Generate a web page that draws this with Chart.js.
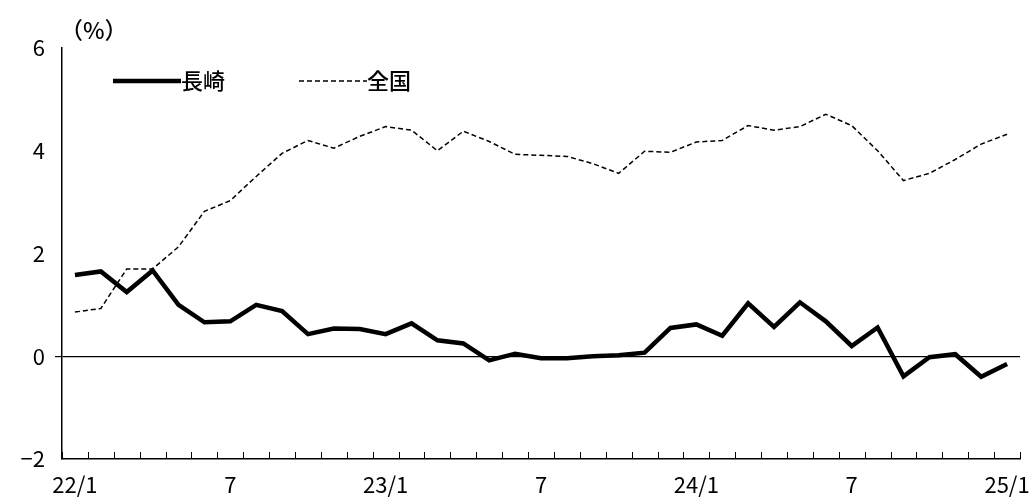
<!DOCTYPE html>
<html><head><meta charset="utf-8">
<script src="https://cdn.jsdelivr.net/npm/chart.js@4/dist/chart.umd.min.js"></script>
<style>html,body{margin:0;background:#fff}#wrap{width:1035px;height:502px}</style>
</head><body><div id="wrap"><canvas id="c"></canvas></div>
<script>
const months = ['22/1','2','3','4','5','6','7','8','9','10','11','12',
  '23/1','2','3','4','5','6','7','8','9','10','11','12',
  '24/1','2','3','4','5','6','7','8','9','10','11','12','25/1'];
const nagasaki = [1.58,1.65,1.25,1.67,1.0,0.66,0.68,1.0,0.88,0.43,0.54,0.53,
  0.43,0.64,0.31,0.25,-0.08,0.05,-0.04,-0.04,0.0,0.02,0.07,0.55,
  0.62,0.4,1.03,0.57,1.05,0.68,0.2,0.56,-0.39,-0.02,0.04,-0.4,-0.15];
const zenkoku = [0.86,0.93,1.7,1.7,2.13,2.82,3.03,3.5,3.95,4.2,4.05,4.28,
  4.47,4.4,4.0,4.38,4.18,3.93,3.91,3.89,3.75,3.56,3.99,3.97,
  4.17,4.2,4.49,4.4,4.47,4.71,4.49,4.0,3.42,3.56,3.83,4.13,4.32];
const yTicks = [-2,0,2,4,6];
const FONT = '"Noto Sans CJK JP", sans-serif';

const overlay = {
  id:'overlay',
  afterDraw(chart){
    const ctx = chart.ctx, a = chart.chartArea, xs = chart.scales.x;
    ctx.save();
    // upward month ticks on the bottom axis
    ctx.strokeStyle = '#000'; ctx.lineWidth = 1;
    for (let i = 0; i <= months.length; i++) {
      const x = Math.round(xs.getPixelForValue(i - 0.5)) + 0.5;
      ctx.beginPath(); ctx.moveTo(x, a.bottom); ctx.lineTo(x, a.bottom - 7); ctx.stroke();
    }
    ctx.fillStyle = '#000';
    ctx.font = '500 23px ' + FONT;
    ctx.textBaseline = 'middle';
    ctx.fillText('（%）', 60, 30);
    chart.data.datasets.forEach((ds,i)=>{
      const x = a.left + 51 + i*186, y = a.top + 33;
      ctx.beginPath();
      ctx.lineWidth = ds.borderWidth;
      ctx.setLineDash(ds.borderDash || []);
      ctx.moveTo(x, y); ctx.lineTo(x+68, y); ctx.stroke();
      ctx.setLineDash([]);
      ctx.font = '500 22px ' + FONT;
      ctx.fillText(ds.label, x+68, y);
    });
    ctx.restore();
  }
};

new Chart(document.getElementById('c'), {
  type:'line',
  data:{datasets:[
    {label:'長崎', data:nagasaki.map((v,i)=>({x:i,y:v})), borderColor:'#000', borderWidth:4.5, pointRadius:0, tension:0},
    {label:'全国', data:zenkoku.map((v,i)=>({x:i,y:v})), borderColor:'#000', borderWidth:1.5, borderDash:[5,3], pointRadius:0, tension:0}
  ]},
  options:{
    responsive:true, maintainAspectRatio:false, animation:false,
    layout:{padding:{top:48,right:15,left:0,bottom:0}},
    plugins:{legend:{display:false}, tooltip:{enabled:false}},
    scales:{
      x:{type:'linear', min:-0.5, max:36.5,
        afterBuildTicks(ax){ ax.ticks = months.map((m,i)=>({value:i})); },
        afterFit(ax){ ax.height = 43; },
        ticks:{autoSkip:false, maxRotation:0, color:'#000', font:{family:FONT,size:22}, padding:4,
          callback:(v)=> (v%6===0 ? months[v] : '')},
        grid:{display:false},
        border:{color:'#000', width:1.5}},
      y:{min:-2, max:6,
        afterBuildTicks(ax){ ax.ticks = yTicks.map(v=>({value:v})); },
        afterFit(ax){ ax.width = 62; },
        ticks:{color:'#000', font:{family:FONT,size:22}, padding:10,
          callback:(v)=> String(v).replace('-', '−')},
        grid:{drawTicks:true, tickLength:7, color:(c)=> c.tick && c.tick.value===0 ? '#000' : 'rgba(0,0,0,0)', lineWidth:1.2},
        border:{color:'#000', width:1.5}}
    }
  },
  plugins:[overlay]
});
</script></body></html>
